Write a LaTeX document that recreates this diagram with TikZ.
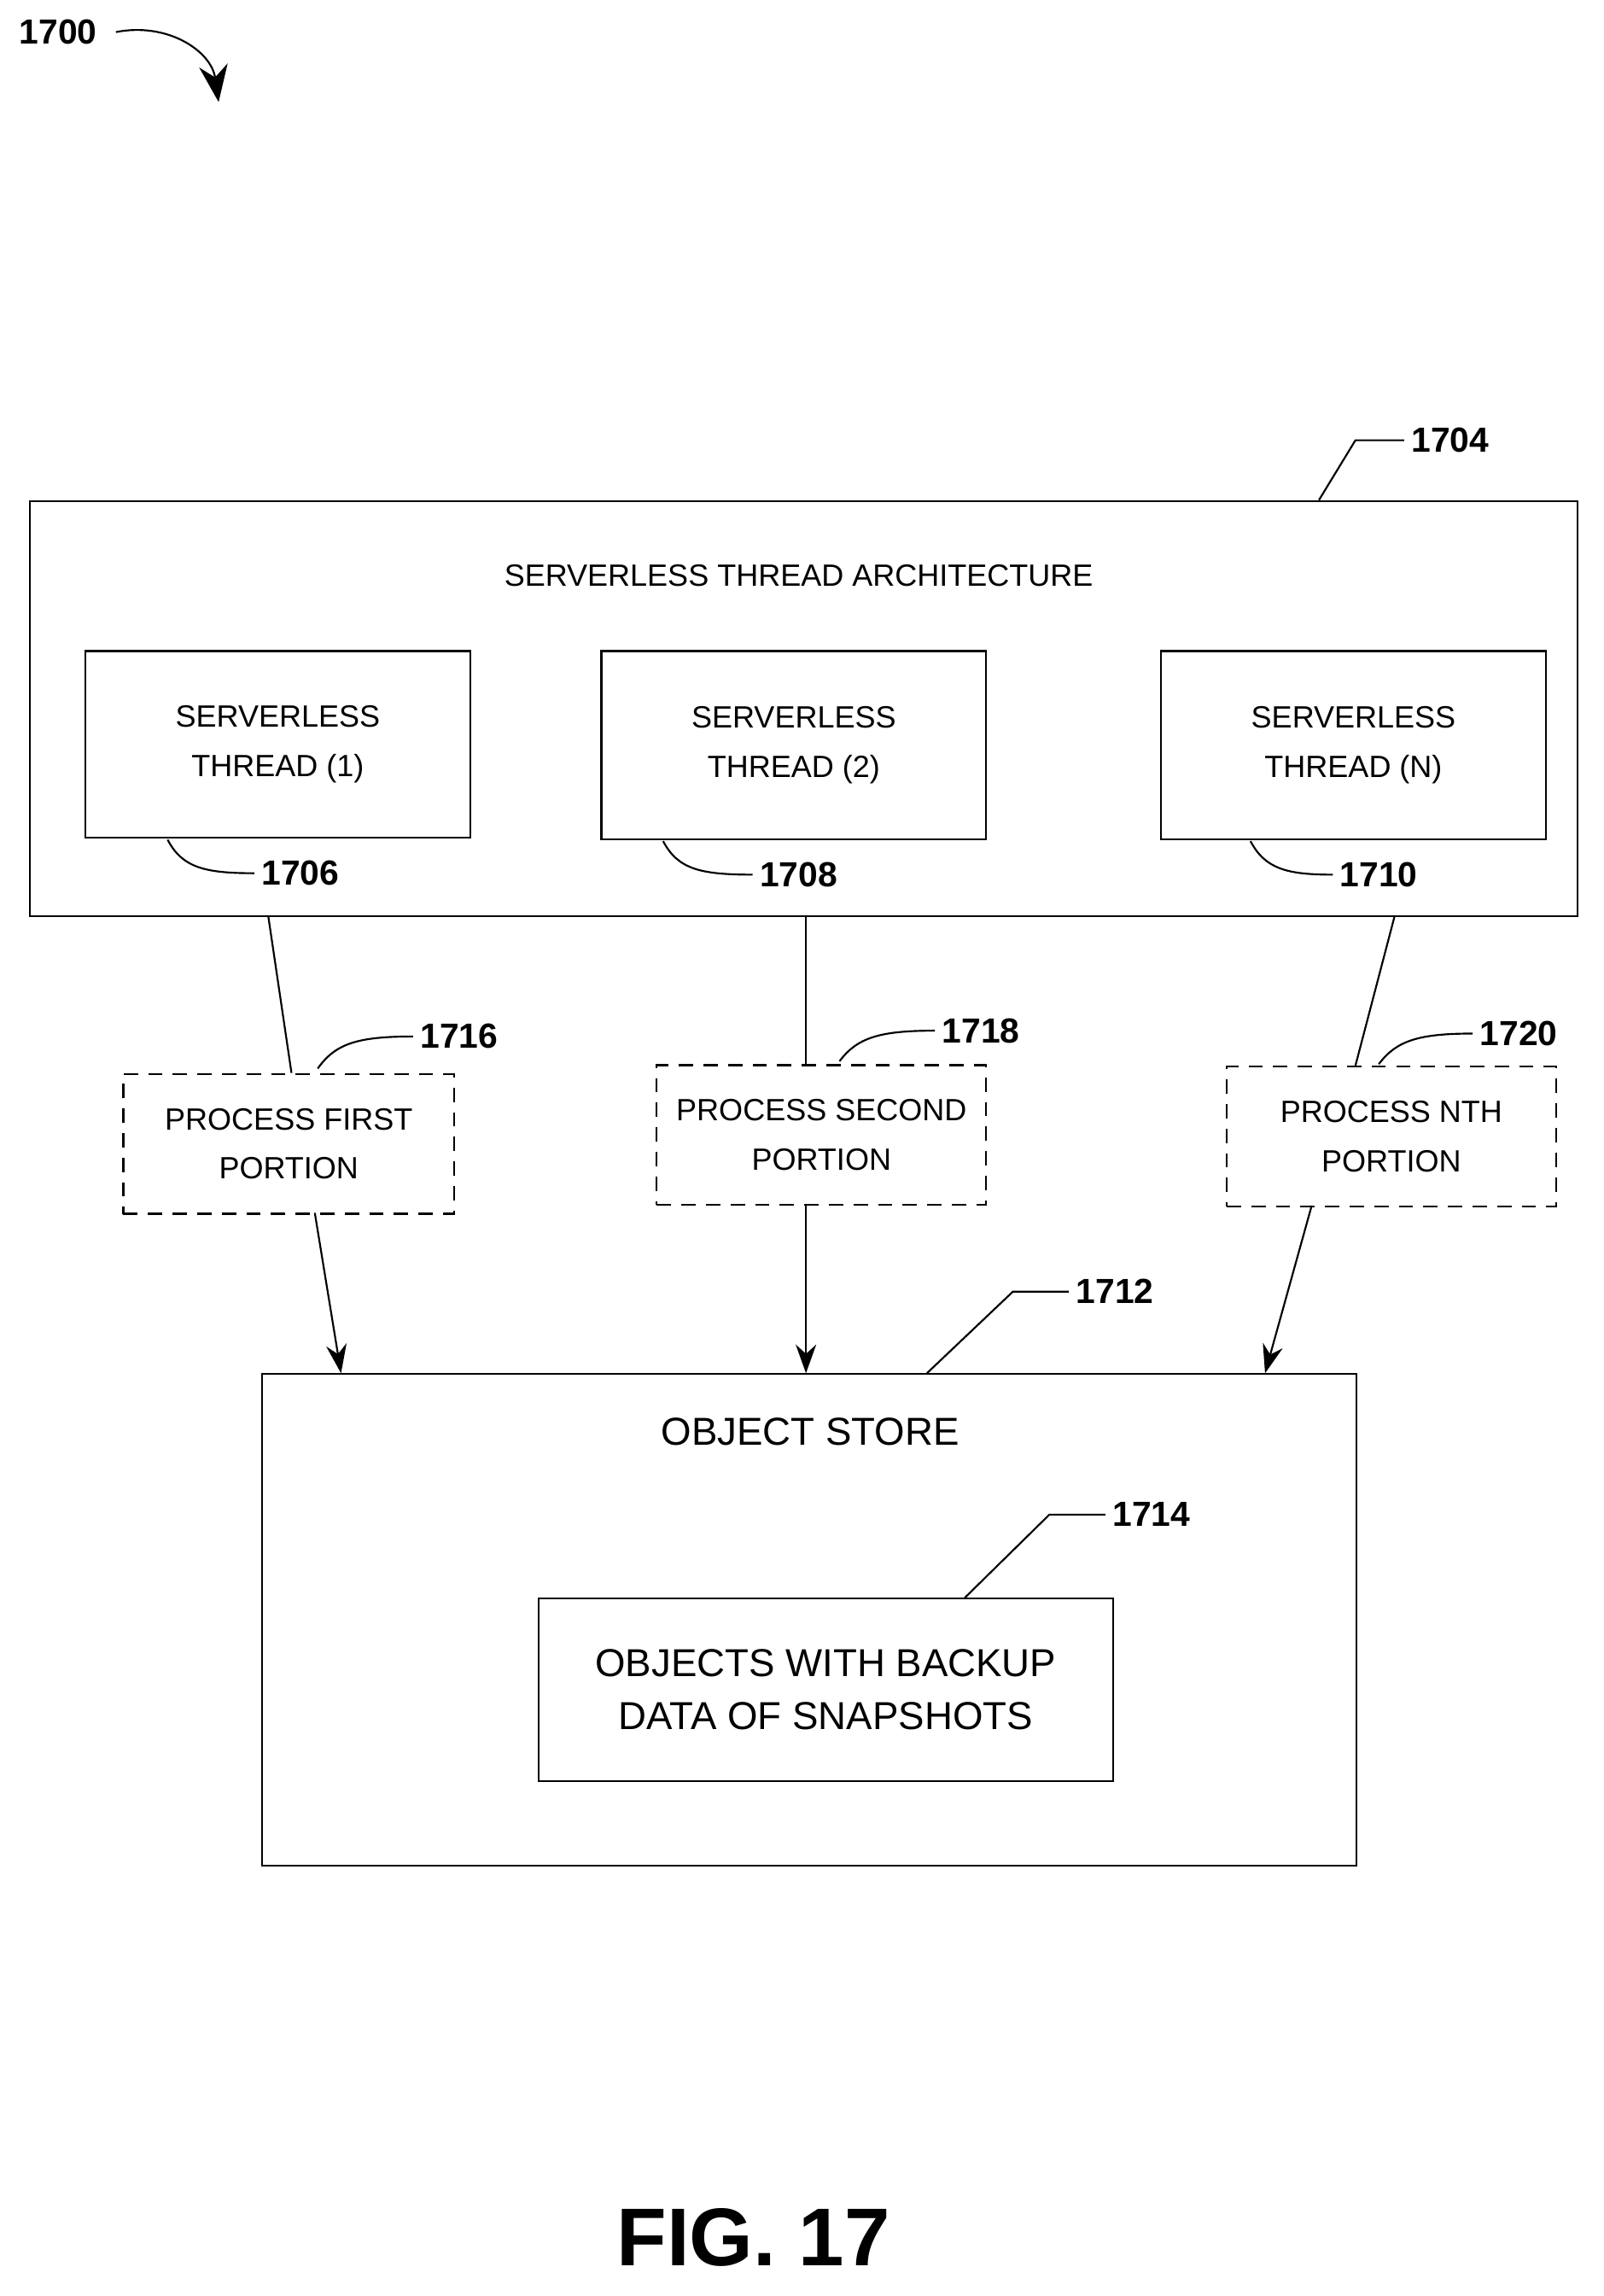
\documentclass[tikz,border=0pt]{standalone}
\usepackage{fontspec}
\setmainfont{Liberation Sans}
\usetikzlibrary{arrows.meta}

\begin{document}
\begin{tikzpicture}[x=0.025cm,y=-0.025cm,
    box/.style={draw,line width=0.9pt,inner sep=0pt},
    dbox/.style={draw,line width=0.9pt,dash pattern=on 7pt off 5pt,inner sep=0pt},
    txt/.style={font=\fontsize{15}{24}\selectfont,align=center},
    num/.style={font=\fontsize{17}{20}\selectfont\bfseries},
    lead/.style={line width=0.9pt},
    arr/.style={line width=0.9pt,-{Stealth[length=14pt,width=10pt]}}]
    \useasboundingbox (0,0) rectangle (1100,1575);
    % figure number
    \node[num] (n1700) at (40,22) {1700};
    \coordinate (a1700) at (150,70);
    \draw[arr,-{Stealth[length=18pt,width=14pt]}] (n1700.east) ++(8,0) .. controls (115,15) and (145,35) .. (a1700);
    % serverless architecture
    \node[box,minimum width={1062*0.025cm},minimum height={285*0.025cm},anchor=north west] (arch) at (20,343) {};
    \node[txt] (archt) at (548,395) {SERVERLESS THREAD ARCHITECTURE};
    \node[box,txt,minimum width={264*0.025cm},minimum height={128*0.025cm},anchor=north west] (t1) at (58,446) {SERVERLESS\\THREAD (1)};
    \node[box,txt,minimum width={264*0.025cm},minimum height={129*0.025cm},anchor=north west] (t2) at (412,446) {SERVERLESS\\THREAD (2)};
    \node[box,txt,minimum width={264*0.025cm},minimum height={129*0.025cm},anchor=north west] (tn) at (796,446) {SERVERLESS\\THREAD (N)};
    \node[num] (n1704) at (995,302) {1704};
    \node[num] (n1706) at (206,599) {1706};
    \node[num] (n1708) at (548,600) {1708};
    \node[num] (n1710) at (946,600) {1710};
    \draw[lead] (905,343) -- (930,302) -- (n1704.west);
    \draw[lead] (115,576) .. controls (125,595) and (140,599) .. (n1706.west);
    \draw[lead] (455,577) .. controls (465,596) and (480,600) .. (n1708.west);
    \draw[lead] (858,577) .. controls (868,596) and (883,600) .. (n1710.west);
    % portions
    \node[dbox,txt,minimum width={227*0.025cm},minimum height={96*0.025cm},anchor=north west] (p1) at (84,736) {PROCESS FIRST\\PORTION};
    \node[dbox,txt,minimum width={226*0.025cm},minimum height={96*0.025cm},anchor=north west] (p2) at (450,730) {PROCESS SECOND\\PORTION};
    \node[dbox,txt,minimum width={226*0.025cm},minimum height={96*0.025cm},anchor=north west] (pn) at (841,731) {PROCESS NTH\\PORTION};
    \node[num] (n1716) at (315,711) {1716};
    \node[num] (n1718) at (673,707) {1718};
    \node[num] (n1720) at (1042,709) {1720};
    \draw[lead] (218,733) .. controls (230,716) and (245,711) .. (n1716.west);
    \draw[lead] (576,728) .. controls (588,712) and (603,707) .. (n1718.west);
    \draw[lead] (946,730) .. controls (958,714) and (973,709) .. (n1720.west);
    \draw[lead] (184,628) -- (200,736);
    \draw[lead] (553,628) -- (553,730);
    \draw[lead] (957,628) -- (930,731);
    % object store
    \node[box,minimum width={751*0.025cm},minimum height={337*0.025cm},anchor=north west] (store) at (179,942) {};
    \node[txt,font=\fontsize{19}{24}\selectfont] (storet) at (556,982) {OBJECT STORE};
    \node[box,txt,font=\fontsize{19}{26}\selectfont,minimum width={394*0.025cm},minimum height={125*0.025cm},anchor=north west] (objs) at (369,1096) {OBJECTS WITH BACKUP\\DATA OF SNAPSHOTS};
    \node[num] (n1712) at (765,886) {1712};
    \node[num] (n1714) at (790,1039) {1714};
    \draw[lead] (636,942) -- (695,886) -- (n1712.west);
    \draw[lead] (662,1096) -- (720,1039) -- (n1714.west);
    \draw[arr] (216,832) -- (234,942);
    \draw[arr] (553,826) -- (553,942);
    \draw[arr] (900,827) -- (868,942);
    \node[font=\fontsize{40}{48}\selectfont\bfseries] (fig) at (517,1535) {FIG. 17};
\end{tikzpicture}
\end{document}
